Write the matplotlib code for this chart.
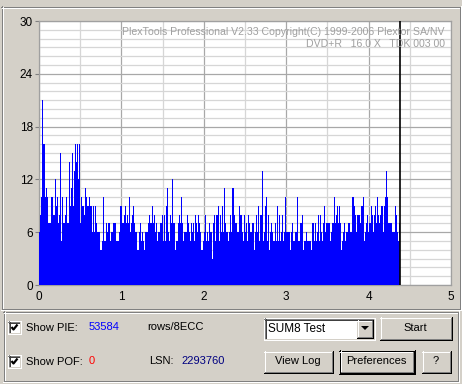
import numpy as np
import matplotlib
matplotlib.use("Agg")
import matplotlib.pyplot as plt
from matplotlib.patches import Rectangle, Polygon
from matplotlib.lines import Line2D

# ---------------- data ----------------
pie_values = [
    6, 8, 10, 21, 16, 16, 10, 11, 10, 7, 7, 7, 10, 10, 8, 8, 12, 9, 10, 7,
    8, 15, 5, 10, 7, 7, 8, 10, 7, 7, 14, 9, 11, 15, 9, 13, 16, 14, 16, 12,
    16, 7, 10, 9, 9, 8, 11, 10, 9, 9, 10, 9, 9, 6, 9, 6, 9, 7, 6, 6, 6,
    4, 4, 5, 10, 5, 5, 7, 6, 7, 7, 5, 6, 6, 7, 7, 7, 5, 5, 5, 6,
    9, 9, 7, 7, 8, 9, 7, 8, 7, 10, 6, 7, 8, 9, 7, 6, 6, 4, 4, 6,
    7, 5, 6, 5, 4, 6, 6, 6, 7, 8, 7, 7, 9, 7, 8, 6, 7, 5, 6, 6,
    7, 7, 8, 5, 8, 5, 9, 11, 6, 5, 8, 7, 12, 7, 7, 4, 5, 5, 7, 8,
    7, 10, 7, 5, 6, 6, 6, 8, 7, 6, 5, 7, 6, 7, 5, 8, 7, 6, 8, 7,
    6, 4, 4, 5, 6, 8, 5, 6, 5, 7, 6, 6, 3, 7, 8, 5, 8, 8,
    9, 5, 8, 6, 9, 6, 11, 7, 6, 6, 5, 6, 8, 6, 11, 11, 8, 7, 7, 6,
    6, 9, 8, 8, 6, 5, 8, 6, 7, 5, 8, 7, 6, 6, 7, 7, 4, 6, 8, 6,
    9, 5, 8, 8, 13, 5, 6, 9, 10, 5, 8, 4, 6, 7, 6, 5, 5, 7, 5, 9,
    5, 8, 5, 6, 8, 5, 6, 10, 6, 6, 6, 6, 4, 6, 7, 5, 5, 6, 6, 10,
    5, 5, 7, 7, 8, 4, 5, 5, 6, 5, 5, 5, 5, 4, 7, 7, 5, 7, 5, 6,
    8, 5, 8, 6, 5, 7, 9, 6, 7, 7, 7, 7, 5, 6, 7, 7, 10, 7, 8, 9,
    7, 9, 7, 4, 5, 6, 7, 5, 6, 6, 7, 6, 6, 10, 10, 9, 8, 6, 8, 8,
    8, 7, 9, 9, 10, 5, 6, 7, 8, 6, 7, 7, 9, 8, 6, 8, 9, 7, 10, 8,
    7, 8, 9, 9, 6, 9, 10, 13, 10, 7, 7, 7, 7, 6, 6, 6, 9, 8, 6, 5, 7,
]
disc_capacity_gb = 4.376
x_ticks = [0, 1, 2, 3, 4, 5]
y_ticks = [0, 6, 12, 18, 24, 30]
title_line1 = "PlexTools Professional V2.33 Copyright(C) 1999-2006 Plextor SA/NV"
title_line2 = "DVD+R   16.0 X   TDK 003 00"
pie_total = "53584"
pof_total = "0"
lsn_value = "2293760"

# ---------------- figure ----------------
W, H = 462, 384
FACE = "#D4D0C8"
fig = plt.figure(figsize=(W / 100, H / 100), dpi=100, facecolor=FACE)
plt.rcParams['font.family'] = ['Liberation Sans', 'DejaVu Sans']

# background/UI axes in pixel coordinates
ui = fig.add_axes([0, 0, 1, 1], zorder=-1)
ui.set_xlim(0, W)
ui.set_ylim(H, 0)
ui.axis("off")
ui.set_facecolor(FACE)

def hline(x0, x1, y, c):
    ui.add_line(Line2D([x0, x1 + 1], [y + 0.5, y + 0.5], color=c, lw=0.72, antialiased=False, solid_capstyle='butt'))

def vline(x, y0, y1, c):
    ui.add_line(Line2D([x + 0.5, x + 0.5], [y0, y1 + 1], color=c, lw=0.72, antialiased=False, solid_capstyle='butt'))

def etched(x0, y0, x1, y1):
    hline(x0, x1 - 1, y0, "#808080"); vline(x0, y0, y1 - 1, "#808080")
    hline(x0 + 1, x1 - 2, y0 + 1, "white"); vline(x0 + 1, y0 + 1, y1 - 2, "white")
    hline(x0, x1, y1, "white"); vline(x1, y0, y1, "white")
    hline(x0 + 1, x1 - 1, y1 - 1, "#808080"); vline(x1 - 1, y0 + 1, y1 - 1, "#808080")

def raised(x0, y0, x1, y1, default=False):
    ui.add_patch(Rectangle((x0, y0), x1 - x0 + 1, y1 - y0 + 1, facecolor=FACE, edgecolor='none'))
    if default:
        hline(x0, x1, y0, "black"); hline(x0, x1, y1, "black")
        vline(x0, y0, y1, "black"); vline(x1, y0, y1, "black")
        x0 += 1; y0 += 1; x1 -= 1; y1 -= 1
    hline(x0, x1 - 1, y0, "white"); vline(x0, y0, y1 - 1, "white")
    hline(x0, x1, y1, "black"); vline(x1, y0, y1, "black")
    hline(x0 + 1, x1 - 1, y1 - 1, "#808080"); vline(x1 - 1, y0 + 1, y1 - 1, "#808080")

def sunken(x0, y0, x1, y1, fill="white"):
    ui.add_patch(Rectangle((x0, y0), x1 - x0 + 1, y1 - y0 + 1, facecolor=fill, edgecolor='none'))
    hline(x0, x1 - 1, y0, "#808080"); vline(x0, y0, y1 - 1, "#808080")
    hline(x0 + 1, x1 - 2, y0 + 1, "#404040"); vline(x0 + 1, y0 + 1, y1 - 2, "#404040")
    hline(x0, x1, y1, "white"); vline(x1, y0, y1, "white")
    hline(x0 + 1, x1 - 1, y1 - 1, FACE); vline(x1 - 1, y0 + 1, y1 - 1, FACE)

def checkbox(x0, y0):
    sunken(x0, y0, x0 + 12, y0 + 12)
    ui.add_line(Line2D([x0 + 3.5, x0 + 5.5, x0 + 9.5], [y0 + 6, y0 + 8.5, y0 + 3.5],
                       color="black", lw=1.6, solid_capstyle='butt'))

FS = 8
def label(x, y, s, c="black", ha="left", fs=FS):
    ui.text(x, y, s, color=c, ha=ha, va="center", fontsize=fs)

# outer frames
etched(1, 6, 460, 309)
etched(3, 311, 458, 381)

# bottom controls
checkbox(8, 321)
label(26, 328, "Show PIE:")
label(89, 327, pie_total, c="#0000FF")
label(147, 327, "rows/8ECC")
sunken(264, 318, 374, 339)
label(268, 329, "SUM8 Test", fs=8.5)
raised(357, 320, 372, 337)
ui.add_patch(Polygon([[361, 326], [369, 326], [365, 330]], closed=True, facecolor="black", edgecolor="none"))
raised(380, 317, 451, 339)
label(415.5, 328, "Start", ha="center")

checkbox(8, 355)
label(26, 362, "Show POF:")
label(89, 361, pof_total, c="#FF0000")
label(149, 361, "LSN:")
label(181, 361, lsn_value, c="#000080")
raised(264, 351, 332, 372)
label(298, 361.5, "View Log", ha="center")
raised(339, 350, 414, 373, default=True)
label(376.5, 361.5, "Preferences", ha="center")
raised(422, 351, 450, 372)
label(436, 361.5, "?", ha="center")

# ---------------- chart axes ----------------
L, R, T, B = 39, 451, 21, 285
ax = fig.add_axes([L / W, 1 - B / H, (R - L) / W, (B - T) / H])
ax.set_facecolor("white")
ax.set_xlim(0, 5)
ax.set_ylim(0, 30)

n = len(pie_values)
step = disc_capacity_gb / n
xs = np.arange(n) * step
ax.bar(xs, pie_values, width=step, align='edge', color="#0000FF", linewidth=0,
       antialiased=False, zorder=3)
ax.axvline(disc_capacity_gb, color="black", lw=1.2, zorder=4)

ax.set_xticks(x_ticks)
ax.set_xticklabels([str(v) for v in x_ticks])
ax.set_xticks(np.arange(0.5, 5, 1.0), minor=True)
ax.set_yticks(y_ticks)
ax.set_yticklabels([str(v) for v in y_ticks])
ax.set_yticks([v for v in range(0, 31) if v % 6 != 0], minor=True)
ax.grid(True, which="major", color="#A8A8A8", lw=0.9, zorder=1)
ax.grid(True, which="minor", color="#D6D6D6", lw=0.9, zorder=1)
ax.set_axisbelow(True)
ax.tick_params(axis="y", which="major", length=3, width=0.8, color="#808080", pad=1.5,
               labelsize=FS + 0.5, direction="out")
ax.tick_params(axis="y", which="minor", length=0)
ax.tick_params(axis="x", which="both", length=0, pad=4, labelsize=FS + 0.5)
for s in ax.spines.values():
    s.set_color("#A0A0A0")
    s.set_linewidth(0.9)

fig.text(445 / W, 1 - 32 / H, title_line1, color="#A0A0A0", ha="right", va="center", fontsize=7.6)
fig.text(445 / W, 1 - 44 / H, title_line2, color="#A0A0A0", ha="right", va="center", fontsize=7.6)

fig.savefig("out.png", dpi=100, facecolor=FACE)
